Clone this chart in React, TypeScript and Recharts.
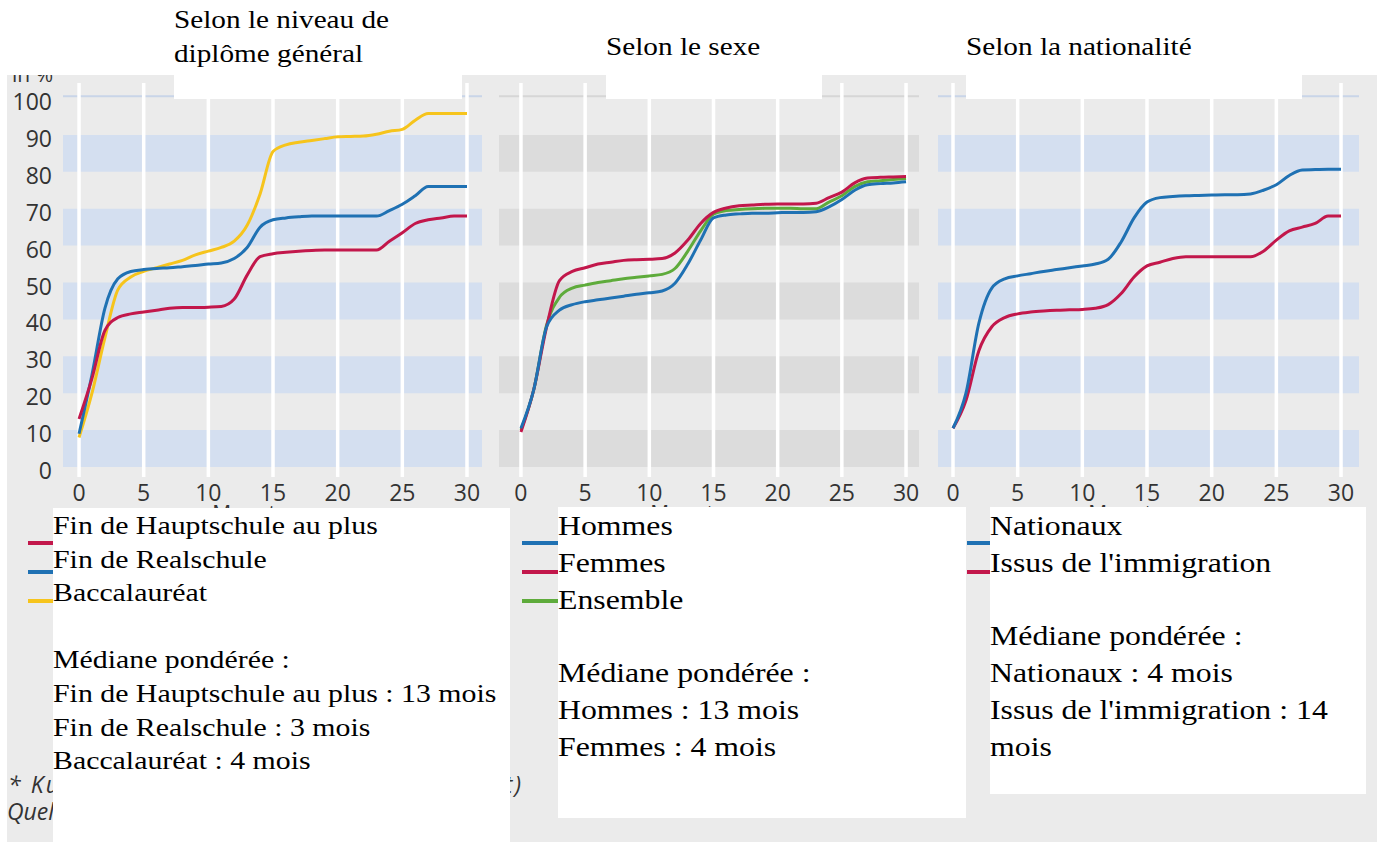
import React from "react";
import { LineChart, Line, XAxis, YAxis, ReferenceArea, ReferenceLine } from "recharts";

// ---------- data ----------
const months = [0, 1, 2, 3, 4, 5, 6, 7, 8, 9, 10, 11, 12, 13, 14, 15, 16, 17, 18, 19, 20, 21, 22, 23, 24, 25, 26, 27, 28, 29, 30];

const hauptschule = [13, 24, 37, 40.5, 41.5, 42, 42.5, 43, 43.2, 43.2, 43.3, 43.5, 45.5, 52, 57, 57.8, 58.2, 58.5, 58.7, 58.8, 58.8, 58.8, 58.8, 58.8, 61.2, 63.5, 66, 67, 67.5, 68, 68];
const realschule = [9, 25, 43, 51, 53, 53.5, 53.8, 54, 54.3, 54.6, 55, 55.3, 56.5, 59.5, 65, 67, 67.5, 67.8, 68, 68, 68, 68, 68, 68, 69.5, 71.2, 73.5, 76, 76, 76, 76];
const abitur = [8, 20, 35, 48, 51.5, 53, 54, 55, 56, 57.5, 58.5, 59.5, 61.2, 65.5, 74, 85.5, 87.3, 88, 88.5, 89, 89.5, 89.6, 89.7, 90.2, 91, 91.5, 94, 95.8, 95.8, 95.8, 95.8];

const hommes = [10.5, 21, 38, 42.5, 44, 44.8, 45.3, 45.8, 46.3, 46.8, 47.2, 47.7, 49.8, 55, 61.5, 67.5, 68.3, 68.6, 68.8, 68.8, 68.9, 69, 69, 69.2, 70.5, 72.5, 75, 76.5, 76.8, 77, 77.3];
const femmes = [9.5, 21, 38, 50.5, 53, 54, 55, 55.5, 56, 56.2, 56.3, 56.5, 58, 61.5, 66, 69, 70.2, 70.8, 71, 71.2, 71.3, 71.3, 71.3, 71.5, 73, 74.5, 77, 78.3, 78.5, 78.6, 78.7];
const ensemble = [10, 21, 38.5, 46, 48.5, 49.3, 50, 50.5, 51, 51.4, 51.8, 52.2, 53.8, 58.5, 64, 68.5, 69.5, 69.8, 70, 70.1, 70.1, 70.1, 70, 70, 71.8, 73.5, 76, 77.3, 77.6, 77.9, 78.2];

const nationaux = [10.5, 20, 39, 48.5, 51, 51.8, 52.4, 53, 53.5, 54, 54.5, 55, 56.3, 61, 67.5, 71.8, 73, 73.3, 73.5, 73.6, 73.7, 73.8, 73.8, 74, 75, 76.5, 79, 80.5, 80.6, 80.7, 80.7];
const immigration = [10.5, 18, 31.5, 38, 40.5, 41.5, 42, 42.3, 42.5, 42.6, 42.7, 43, 44, 47, 51.5, 54.5, 55.5, 56.5, 57, 57, 57, 57, 57, 57, 58.5, 61.5, 64, 65, 66, 68, 68];

const xTicks = [0, 5, 10, 15, 20, 25, 30];
const yTicks = [0, 10, 20, 30, 40, 50, 60, 70, 80, 90, 100];
const bands = [[0, 10], [20, 30], [40, 50], [60, 70], [80, 90]];

const titles = [["Selon le niveau de", "diplôme général"], ["Selon le sexe"], ["Selon la nationalité"]];
const legendA = ["Fin de Hauptschule au plus", "Fin de Realschule", "Baccalauréat", "", "Médiane pondérée :", "Fin de Hauptschule au plus : 13 mois", "Fin de Realschule : 3 mois", "Baccalauréat : 4 mois"];
const legendB = ["Hommes", "Femmes", "Ensemble", "", "Médiane pondérée :", "Hommes : 13 mois", "Femmes : 4 mois"];
const legendC = ["Nationaux", "Issus de l'immigration", "", "Médiane pondérée :", "Nationaux : 4 mois", "Issus de l'immigration : 14", "mois"];

// ---------- styles ----------
const RED = "#c2174b";
const BLUE = "#1f71b3";
const YELLOW = "#f6c41c";
const GREEN = "#5eab3b";
const BG = "#ebebeb";
const SANS = "'Open Sans', 'Noto Sans', sans-serif";
const SERIF = "'Liberation Serif', 'Times New Roman', serif";

const data1 = months.map((m, i) => ({ m, h: hauptschule[i], r: realschule[i], a: abitur[i] }));
const data2 = months.map((m, i) => ({ m, ho: hommes[i], fe: femmes[i], en: ensemble[i] }));
const data3 = months.map((m, i) => ({ m, na: nationaux[i], im: immigration[i] }));

const CHART_H = 520;
const PLOT_TOP = 83;
const PLOT_BOTTOM = 477;
const X_AXIS_H = 30;
const Y_DOMAIN: [number, number] = [-2.71, 104.07];

const XTick = (props: any) => {
  const { x, payload } = props;
  return (
    <text x={x} y={492} textAnchor="middle" dominantBaseline="central" fontFamily={SANS} fontSize={23} fill="#333">
      {payload.value}
    </text>
  );
};

const YTick = (props: any) => {
  const { y, payload } = props;
  return (
    <text x={52} y={y + 3} textAnchor="end" dominantBaseline="central" fontFamily={SANS} fontSize={23} fill="#333">
      {payload.value}
    </text>
  );
};

type Series = { key: string; color: string };

function Panel(props: {
  left: number; width: number; plotLeft: number; plotRight: number; domain: [number, number];
  data: any[]; series: Series[]; band: string; topLine: string; showY: boolean;
}) {
  const { left, width, plotLeft, plotRight, domain, data, series, band, topLine, showY } = props;
  const yW = showY ? 55 : 0;
  return (
    <div style={{ position: "absolute", left, top: 0 }}>
      <LineChart
        width={width}
        height={CHART_H}
        data={data}
        margin={{ top: PLOT_TOP, left: plotLeft - left - yW, right: left + width - plotRight, bottom: CHART_H - PLOT_BOTTOM - X_AXIS_H }}
      >
        <XAxis dataKey="m" type="number" domain={domain} ticks={xTicks} allowDataOverflow axisLine={false} tickLine={false} height={X_AXIS_H} tick={<XTick />} interval={0} />
        <YAxis type="number" domain={Y_DOMAIN} ticks={yTicks} allowDataOverflow axisLine={false} tickLine={false} width={yW || 60} hide={!showY} tick={<YTick />} interval={0} />
        {bands.map(([a, b]) => (
          <ReferenceArea key={a} y1={a} y2={b} fill={band} fillOpacity={1} stroke="none" />
        ))}
        <ReferenceLine y={100.5} stroke={topLine} strokeWidth={2} />
        {xTicks.map((t) => (
          <ReferenceLine key={t} x={t} stroke="#ffffff" strokeWidth={3.5} />
        ))}
        {series.map((s) => (
          <Line key={s.key} dataKey={s.key} type="monotone" stroke={s.color} strokeWidth={3} dot={false} activeDot={false} isAnimationActive={false} />
        ))}
      </LineChart>
    </div>
  );
}

function TextBlock(props: { x: number; y0: number; step: number; lines: string[]; size: number; sx: number }) {
  const { x, y0, step, lines, size, sx } = props;
  return (
    <>
      {lines.map((l, i) =>
        l ? (
          <text key={i} transform={`translate(${x},${y0 + i * step}) scale(${sx},1)`} fontFamily={SERIF} fontSize={size} fill="#000">
            {l}
          </text>
        ) : null
      )}
    </>
  );
}

export default function App() {
  return (
    <div style={{ position: "absolute", left: 0, top: 0, width: 1377, height: 842, background: "#fff", overflow: "hidden" }}>
      <div style={{ position: "absolute", left: 7, top: 60, width: 1370, height: 782, background: BG }} />
      <svg width={1377} height={842} style={{ position: "absolute", left: 0, top: 0 }}>
        <text x={12} y={82} fontFamily={SANS} fontSize={21} fill="#333">in %</text>
      </svg>
      <Panel left={0} width={492} plotLeft={63} plotRight={482} domain={[-1.24, 31.16]} data={data1}
        series={[{ key: "a", color: YELLOW }, { key: "r", color: BLUE }, { key: "h", color: RED }]}
        band="#d4dff0" topLine="#c9d5e8" showY />
      <Panel left={489} width={440} plotLeft={499} plotRight={919} domain={[-1.71, 31.01]} data={data2}
        series={[{ key: "en", color: GREEN }, { key: "fe", color: RED }, { key: "ho", color: BLUE }]}
        band="#dcdcdc" topLine="#d6d6d6" showY={false} />
      <Panel left={928} width={441} plotLeft={938} plotRight={1359} domain={[-1.16, 31.39]} data={data3}
        series={[{ key: "im", color: RED }, { key: "na", color: BLUE }]}
        band="#d4dff0" topLine="#c9d5e8" showY={false} />
      <svg width={1377} height={842} style={{ position: "absolute", left: 0, top: 0 }}>
        {/* axis titles (partly hidden by the legend boxes) */}
        <text x={250} y={521} textAnchor="middle" fontFamily={SANS} fontSize={21} fill="#333">Monate</text>
        <text x={688} y={521} textAnchor="middle" fontFamily={SANS} fontSize={21} fill="#333">Monate</text>
        <text x={1126} y={521} textAnchor="middle" fontFamily={SANS} fontSize={21} fill="#333">Monate</text>
        {/* legend keys */}
        <line x1={28} x2={56} y1={543} y2={543} stroke={RED} strokeWidth={4} />
        <line x1={28} x2={56} y1={572} y2={572} stroke={BLUE} strokeWidth={4} />
        <line x1={28} x2={56} y1={601} y2={601} stroke={YELLOW} strokeWidth={4} />
        <line x1={522} x2={560} y1={543} y2={543} stroke={BLUE} strokeWidth={4} />
        <line x1={522} x2={560} y1={572} y2={572} stroke={RED} strokeWidth={4} />
        <line x1={522} x2={560} y1={601} y2={601} stroke={GREEN} strokeWidth={4} />
        <line x1={967} x2={992} y1={543} y2={543} stroke={BLUE} strokeWidth={4} />
        <line x1={967} x2={992} y1={572} y2={572} stroke={RED} strokeWidth={4} />
        {/* footnotes */}
        <text x={8} y={793} textLength={513} lengthAdjust="spacing" fontFamily={SANS} fontStyle="italic" fontSize={23} fill="#333">* Kumulierte Übergangsquoten (gewichtet)</text>
        <text x={7} y={820} fontFamily={SANS} fontStyle="italic" fontSize={23} fill="#333">Quelle: BIBB-Übergangsstudie</text>
        {/* white overlay boxes */}
        <rect x={0} y={0} width={1377} height={75} fill="#fff" />
        <rect x={174} y={0} width={288} height={99} fill="#fff" />
        <rect x={606} y={0} width={216} height={99} fill="#fff" />
        <rect x={966} y={0} width={336} height={99} fill="#fff" />
        <rect x={53} y={508} width={457} height={334} fill="#fff" />
        <rect x={558} y={507} width={408} height={311} fill="#fff" />
        <rect x={990} y={507} width={376} height={287} fill="#fff" />
        {/* titles */}
        <TextBlock x={174} y0={28} step={34} lines={titles[0]} size={25} sx={1.17} />
        <TextBlock x={606} y0={55} step={34} lines={titles[1]} size={25} sx={1.17} />
        <TextBlock x={966} y0={55} step={34} lines={titles[2]} size={25} sx={1.17} />
        {/* legend texts */}
        <TextBlock x={53} y0={534} step={33.6} lines={legendA} size={25.5} sx={1.17} />
        <TextBlock x={558} y0={535} step={36.8} lines={legendB} size={26.5} sx={1.2} />
        <TextBlock x={990} y0={535} step={36.8} lines={legendC} size={26.5} sx={1.2} />
      </svg>
    </div>
  );
}
